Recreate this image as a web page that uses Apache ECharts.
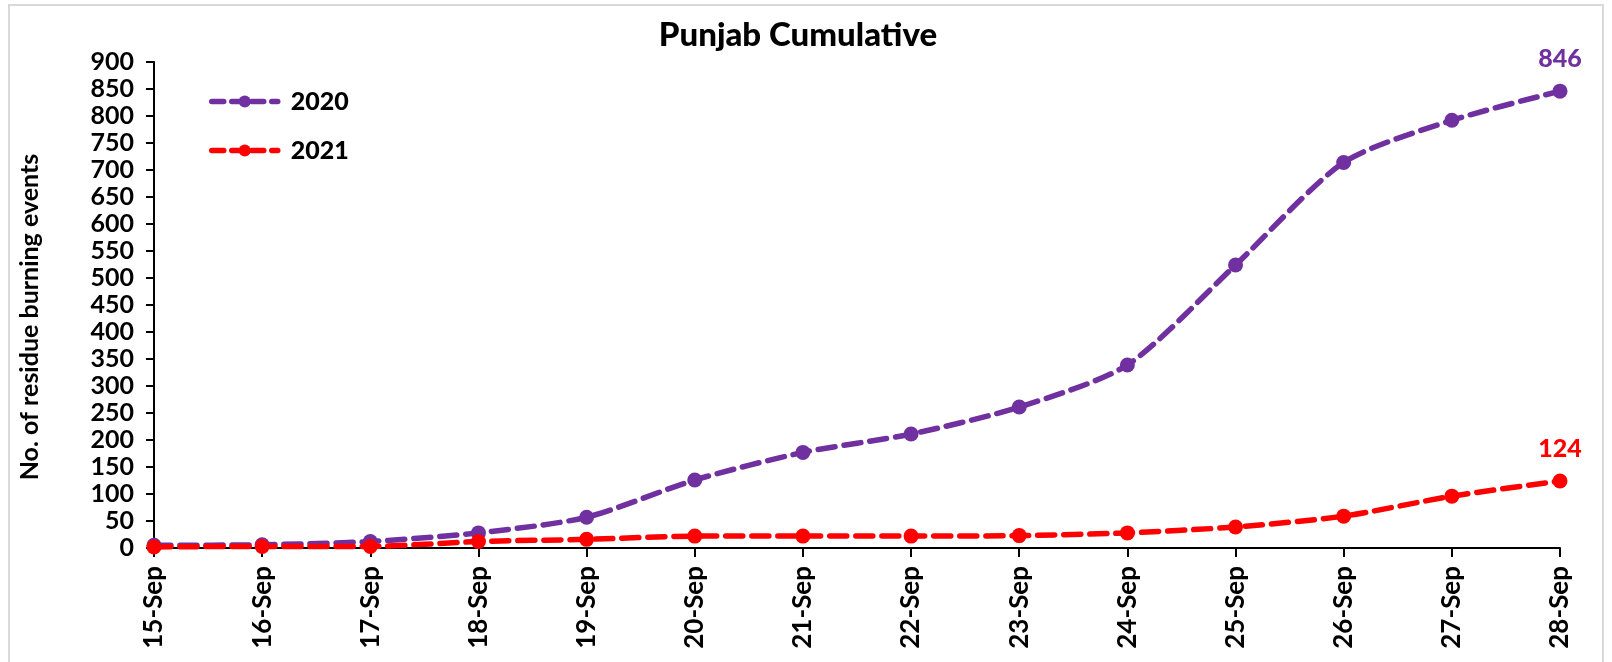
<!DOCTYPE html>
<html>
<head>
<meta charset="utf-8">
<script src="https://cdn.jsdelivr.net/npm/echarts@6/dist/echarts.min.js"></script>
<style>
html,body{margin:0;padding:0;background:#fff;}
#wrap{position:absolute;left:8px;top:4px;width:1596px;height:700px;border:2px solid #d9d9d9;box-sizing:border-box;}
#chart{position:absolute;left:0;top:0;width:1612px;height:662px;}
</style>
</head>
<body>
<div id="wrap"></div>
<div id="chart"></div>
<script>
const categories = ['15-Sep','16-Sep','17-Sep','18-Sep','19-Sep','20-Sep','21-Sep','22-Sep','23-Sep','24-Sep','25-Sep','26-Sep','27-Sep','28-Sep'];
const values2020 = [5, 6, 12, 28, 57, 126, 177, 211, 261, 339, 524, 714, 792, 846];
const values2021 = [2, 3, 3, 12, 16, 22, 22, 22, 23, 28, 39, 59, 96, 124];
const yTicks = [0, 50, 100, 150, 200, 250, 300, 350, 400, 450, 500, 550, 600, 650, 700, 750, 800, 850, 900];

const FONT = 'Lato';
const chart = echarts.init(document.getElementById('chart'), null, {renderer: 'canvas'});

function mkSeries(name, data, color) {
  return {
    name: name,
    type: 'line',
    data: data,
    smooth: 0.25,
    symbol: 'circle',
    symbolSize: 15,
    itemStyle: {color: color},
    lineStyle: {color: color, width: 5.5, type: [17, 9], cap: 'round'},
    label: {
      show: true,
      position: 'top',
      distance: 12,
      formatter: function (p) { return p.dataIndex === data.length - 1 ? '{v|' + p.value + '}' : ''; },
      rich: {v: {color: color, fontFamily: FONT, fontWeight: 900, fontSize: 25}}
    }
  };
}

chart.setOption({
  animation: false,
  backgroundColor: 'transparent',
  title: {
    text: 'Punjab Cumulative',
    left: 793,
    textAlign: 'center',
    top: 14,
    textStyle: {fontFamily: FONT, fontWeight: 900, fontSize: 33, color: '#000'}
  },
  legend: {
    orient: 'vertical',
    left: 204,
    top: 84,
    itemGap: 24,
    itemWidth: 66,
    itemHeight: 15,
    selectedMode: false,
    lineStyle: {width: 5.5, type: [12, 8], cap: 'round'},
    formatter: '{b|{name}}',
    textStyle: {
      fontFamily: FONT, fontWeight: 900, fontSize: 25, color: '#000',
      rich: {b: {fontFamily: FONT, fontWeight: 900, fontSize: 25, color: '#000', padding: [0, 0, 0, 8]}}
    },
    data: ['2020', '2021']
  },
  grid: {left: 154, right: 52, top: 62, bottom: 114, containLabel: false},
  xAxis: {
    type: 'category',
    data: categories,
    boundaryGap: false,
    axisLine: {lineStyle: {color: '#000', width: 2}},
    axisTick: {show: true, alignWithLabel: true, length: 9, lineStyle: {color: '#000', width: 2}},
    axisLabel: {rotate: 90, fontFamily: FONT, fontWeight: 'bold', fontSize: 26, color: '#000', margin: 18, interval: 0}
  },
  yAxis: {
    type: 'value',
    min: 0,
    max: 900,
    interval: 50,
    name: 'No. of residue burning events',
    nameLocation: 'middle',
    nameGap: 112,
    nameTextStyle: {fontFamily: FONT, fontWeight: 'bold', fontSize: 25, color: '#000', padding: [0, 24, 0, 0]},
    splitLine: {show: false},
    axisLine: {show: true, lineStyle: {color: '#000', width: 2}},
    axisTick: {show: true, length: 8, lineStyle: {color: '#000', width: 2}},
    axisLabel: {fontFamily: FONT, fontWeight: 'bold', fontSize: 25, color: '#000', margin: 20,
      formatter: function (v) { return yTicks.indexOf(v) >= 0 ? String(v) : ''; }}
  },
  series: [
    mkSeries('2020', values2020, '#7030A0'),
    mkSeries('2021', values2021, '#FF0000')
  ]
});
</script>
</body>
</html>
